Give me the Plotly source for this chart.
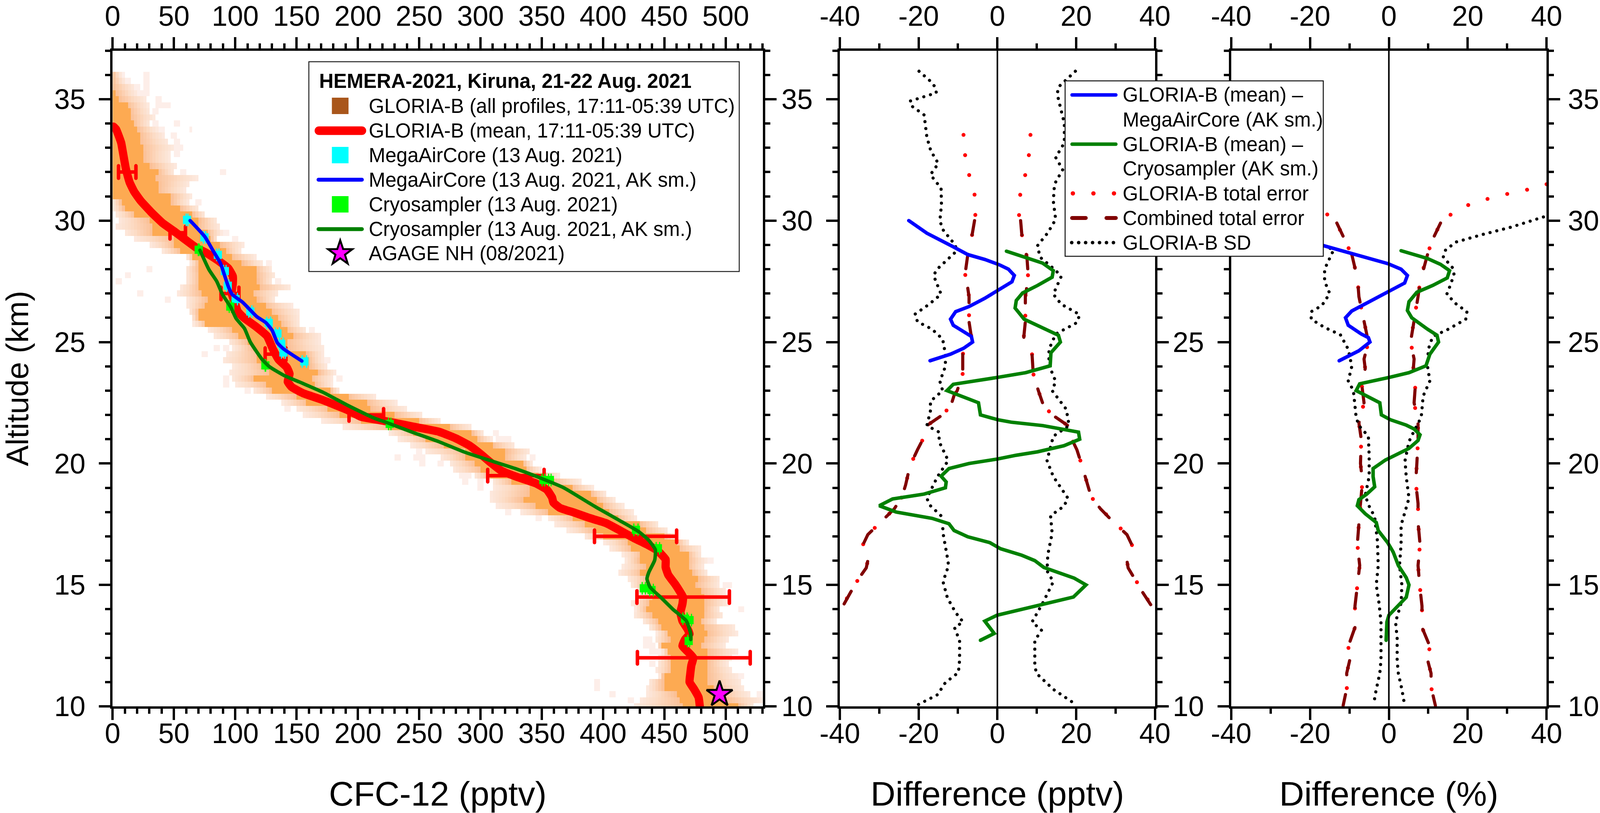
import math
import plotly.graph_objects as go

W, H = 4134, 2081

# ---------- histogram rows: altitude, outer left, core left, core right, outer right
ROW_ALT = [36,35.75,35.5,35.25,35,34.75,34.5,34.25,34,33.75,33.5,33.25,33,32.75,32.5,32.25,32,31.75,31.5,31.25,31,30.75,30.5,30.25,30,29.75,29.5,29.25,29,28.75,28.5,28.25,28,27.75,27.5,27.25,27,26.75,26.5,26.25,26,25.75,25.5,25.25,25,24.75,24.5,24.25,24,23.75,23.5,23.25,23,22.75,22.5,22.25,22,21.75,21.5,21.25,21,20.75,20.5,20.25,20,19.75,19.5,19.25,19,18.75,18.5,18.25,18,17.75,17.5,17.25,17,16.75,16.5,16.25,16,15.75,15.5,15.25,15,14.75,14.5,14.25,14,13.75,13.5,13.25,13,12.75,12.5,12.25,12,11.75,11.5,11.25,11,10.75,10.5,10.25,10]
ROW_A = [0,0,0,0,0,0,0,0,0,0,0,0,0,0,0,0,0,0,0,0,0,0,0,2,4,2,9,18,30,40,60,63,59,59,59,55,53,60,60,62,64,66,78,82,94,98,92,89,97.5,94.6,96.5,100,114,125,138,149,156,171,187.5,225,233,243,254,267,274,277,294,309,310,307,308,313,333,356,360.6,371,384,401,405,416,418,416,413,420,422,428,428,423.7,426,424.7,432,437,443.7,442,444.7,448,446,444,443,446,436.5,436,435,429,424.7]
ROW_B = [0,0,0,0,0,0,0,0,0,0,0,0,0,0,0,0,0,0,0,0,0,7,9,18,30,33,32,49,50,55,66,70,70,71,71,71,72,77,75,70,70,76,97.5,103,110,114,117.5,118.6,123,127,116,126,131,149,158.5,176,185,203,225,245,256,270,287,287,295,300.6,308,325,341,339.5,334,345,355,375,386,392,400,420.5,423,431,429,434,431,436,434,440,440,437.4,435,439.5,444.7,447,453,454,447.4,453,455,456,456,449,449,449,459,463.6,465]
ROW_C = [0,0,0,3,5,12,14,15,17,20,22,22,24,25,25,31,37,35,37,37,48,48,55,65,71,70,78,80,88,92,97.5,106,116.5,117.5,118.6,119.6,114,118.6,124,129,134,137.5,142,147,142,143,158,160,161,168,162,165,177.5,192,207,211,230,249.6,274,293,297.5,310,321,320,335,337,348,360,375,390,395,400,405,413,430,434,450,460.5,461.5,469,469.4,469,473,478,476,480,482,482.6,482.6,481.5,479.4,482.6,484.7,482.6,480,485,485,485,485,485,484.7,490,495,500,510]
ROW_D = [7,10,18,20,27,29,31,34,31,37,42,46,50,47,47,52,51,69,63,60,64,62,71,76,86,88,89,86,107,105,117,122,130,133,131,145,136,133,146.4,152,153,153,158.5,169.6,169.6,172,172,172,175,182,180,179,185,215,232,240,253,267.5,293,303,309,328.5,340.6,337,342,349,364,381.6,392,403,410,417,425,427,446,453.7,460.5,470,480,480.5,484,482.6,485,496,495,500.5,502,501.5,495.8,498.6,492.6,508.4,509,502.6,500,509,505,502,505.5,509.7,513.6,515,519.4,529,523.6]
# isolated cells: altitude, left, right
OUT_ALT = [36,36,35.75,35.75,35.5,35.5,35.25,35,34.75,34.5,34,34,33.75,33.75,33.5,33.25,33,32.75,32,32,30.75,29.5,29.25,28.25,28,27.75,27.5,27.5,27,26.75,25.5,24.75,24.75,24.5,24.25,23.5,23.5,23.25,23,22.25,21.25,21,20.5,20.25,20.25,20.25,20,20,19.5,19.25,19.25,19,18,17.75,16,15,14,12.75,12.5,12.5,12.25,11.75,11.25,11,10.75,10.5,10.5,10.25]
OUT_X0 = [5,24,9,24,18,24,20,35,36,33,33,51,38,62,48,49,51,49,54,87,67,90,97,124,27,9,3,132,19,43,161,83,91,73,173,90,182,89,108,140,311,313,248,231,246,339,250,264,282,284,298,297,320,344,485,498,509,433,432,438,438,436.5,511,392.6,392,404,524,419]
OUT_X1 = [10,29,14,29,23,29,29,40,47,38,38,56,43,66,53,56,57,56,59,92,72,95,103,129,32,14,8,137,24,48,166,88,96,78,178,95,187,94,113,145,316,324,253,236,254,344,255,271,292,289,303,302,325,349,490,505.5,514.4,439.5,437.4,443,447,442,516,398,397.4,409,529,425]

# ---------- left panel
MEAN_X = [0.7,2.8,5.5,7,8.6,10.7,12.3,13.9,17.6,22.8,31.2,40.7,50.2,58.6,68,76.5,87,94.4,98,98,97,99.6,102,107,116.5,126,130.7,135.4,142,144.3,142.8,146,155.4,171,192,202.7,220.6,229,244.8,265.9,279.6,291,300.6,308,316.4,329,344.8,354.2,358.4,359.5,364.8,376.3,388,402.6,415.3,425.8,436.3,444.7,451,451,453.1,458.9,462.6,465.2,464.7,463.1,464.7,468.9,470.5,466.8,464.7,468.9,473.6,472,471,470.5,474.2,477.9,478.9]
MEAN_Y = [33.87,33.76,33.42,33.2,32.75,32.16,31.84,31.57,31.19,30.82,30.36,29.9,29.56,29.24,28.89,28.67,28.32,28.03,27.71,27.39,27.01,26.64,26.26,26,25.65,25.24,24.71,24.28,23.96,23.69,23.37,23.15,22.89,22.62,22.19,21.92,21.76,21.68,21.52,21.31,21.04,20.74,20.37,20.05,19.72,19.46,19.19,18.92,18.6,18.39,18.17,17.98,17.77,17.54,17.2,16.91,16.65,16.4,16.05,15.73,15.42,15.02,14.73,14.5,14.21,13.87,13.52,13.18,12.98,12.75,12.49,12.26,12,11.69,11.29,11,10.71,10.37,10]
ERR_ALT = [32,29.5,27,24.5,22,19.5,17,14.5,12]
ERR_LO = [4.8,46.8,88.4,124.4,192.8,305.9,393,427.6,428]
ERR_HI = [19,59.4,103,141.4,221,351.9,460,503,520]
MAC_X = [60.7,74.9,85.8,91.5,93.9,100.3,112.3,127.3,134.4,137.5,139.3,156.4]
MAC_Y = [30.03,29.31,28.59,27.92,27.32,26.77,26.26,25.79,25.35,24.93,24.57,24.2]
MAC_E = [0.7,0.9,0.9,1,1,1.5,1.3,1.6,1.6,1.6,1.6,1.8]
MAC_AK_X = [63.2,75.3,81.7,88,91.2,94.4,97.5,106,117.5,124.9,130.1,134.3,139.6,154.3]
MAC_AK_Y = [30,29.33,28.78,28.24,27.76,27.28,26.96,26.64,26.05,25.8,25.48,24.97,24.71,24.22]
CRY_X = [70.2,96,124.6,226,351.3,356.6,426.8,444.7,433.2,439.5,466.8,470.5,469.8]
CRY_Y = [28.8,26.46,24.04,21.63,19.32,19.32,17.27,16.51,14.86,14.79,13.61,13.55,12.69]
CRY_E = [0.4,0.9,0.2,1,1,1,1.7,1.4,1.3,1.5,1.7,1.6,0.8]
CRY_AK_X = [71.2,78.6,84.9,89.6,96.5,100.7,107.5,112.3,121.7,128,139.6,155.4,171.2,192.2,213.2,223.8,244.8,265.9,286.9,311.1,329,350,367.9,388,395.3,413.2,428.9,437.4,442.6,442.1,437.4,435.8,438.4,446.8,457.3,467.9,471.5,471.5]
CRY_AK_Y = [28.78,27.98,27.5,26.96,26.42,25.97,25.56,25,24.3,23.98,23.63,23.29,22.94,22.38,21.87,21.68,21.28,20.9,20.47,20.07,19.78,19.38,19,18.39,18.17,17.66,17.2,16.83,16.45,16.02,15.53,15.25,14.9,14.5,13.98,13.52,12.98,12.75]
AGAGE_X = [495]
AGAGE_Y = [10.5]

# ---------- middle panel (pptv)
D_BLUE_X = [-22.5,-17.9,-11.2,-7.5,-3.2,0.5,2.8,4.3,3.7,0.1,-3.2,-7.2,-10.6,-11.9,-11.2,-8.6,-6.6,-6.3,-8.6,-11.9,-17.1]
D_BLUE_Y = [30,29.48,28.92,28.6,28.4,28.18,28,27.74,27.48,27.12,26.8,26.46,26.25,25.94,25.69,25.43,25.23,25,24.74,24.5,24.23]
D_GREEN_X = [2.3,7.5,11.5,14.2,13.9,10.2,6.4,4.8,4.5,6.8,11.5,15.5,16,13.6,13.4,7.2,-0.5,-11.2,-12.8,-4.8,-4.3,0.1,3.5,11.5,20.6,20.9,16.9,10.2,4.8,-0.1,-7.2,-12.3,-14.3,-13,-13.2,-18.6,-26.6,-30,-25.7,-16.6,-12.3,-11,-7.5,-1.9,0.8,6.2,9.5,11.8,19.5,22.5,19.3,11.5,5.5,-0.1,-3.2,-1.9,-0.8,-4.3]
D_GREEN_Y = [28.74,28.46,28.25,27.94,27.67,27.33,27.02,26.71,26.4,25.94,25.58,25.28,25,24.56,24.02,23.74,23.53,23.26,23,22.5,22,21.8,21.7,21.56,21.29,21,20.73,20.48,20.34,20.18,20,19.79,19.48,19.24,19,18.74,18.54,18.26,18,17.74,17.52,17.24,16.98,16.74,16.49,16.22,16,15.72,15.28,15,14.5,14.19,13.97,13.75,13.51,13.25,13,12.72]
D_SDL_X = [-19.9,-17,-15.8,-15.5,-22.2,-21.7,-18.6,-18.2,-17.9,-16.9,-15,-17,-14.3,-14.2,-14.6,-13.9,-10.6,-10.6,-15.3,-16.2,-15,-14.3,-17.3,-20.9,-20.3,-16.6,-13.9,-13.2,-13.2,-14.6,-13.9,-17,-17,-17.9,-14.8,-14.8,-12.5,-15.2,-17.9,-17.2,-14,-13.8,-12.7,-12.4,-13.8,-12.7,-10.6,-8.7,-10.9,-9.6,-9.6,-9.9,-13.2,-15.2,-20.6]
D_SDL_Y = [36.15,35.74,35.5,35.26,34.92,34.71,34.35,33.94,33.43,32.87,32.35,31.89,31.33,30.66,30,29.64,28.97,28.71,28,27.74,27.28,26.97,26.56,26.15,25.84,25.53,25.12,24.5,24,23.38,23,22.56,22.17,21.56,21.29,20.9,20.12,19.46,18.57,18.29,17.8,17.13,16.13,15.8,15.13,14.47,13.86,13.47,13.25,12.7,11.9,11.39,10.98,10.48,10.03]
D_SDR_X = [19.8,17.1,15.5,15.2,17,17,14.8,16.6,14.5,14.2,14.8,12.8,10.2,10.8,14.8,16.2,14.2,16.2,20.9,20.2,14.8,13.1,13.1,14.8,13.9,17.5,18.2,14.2,12.6,14.2,16.2,17.9,16.9,13.5,13.9,12.8,12.6,14.2,11.5,8.8,11.2,9.5,9.5,9.9,14.2,20.2]
D_SDR_Y = [36.15,35.74,35.5,35.2,34,33.2,32.6,32.1,31.5,30.8,30.05,29.5,28.97,28.5,27.95,27.7,26.97,26.56,26.13,25.8,25.33,24.7,24.05,23.38,23,22.23,21.56,21.12,20.12,19.46,18.96,18.57,18.24,17.85,17.13,16.24,15.58,15.13,14.25,13.47,13.14,12.7,11.7,11.36,10.7,10.05]
D_TOTL_X = [-8.6,-8.2,-7.2,-5.8,-5.6,-6.4,-7.6,-8.2,-7.6,-7.2,-7.2,-6.6,-8.8,-8.8,-10.2,-11,-11.9,-14.4,-17.9,-18.9,-20.3,-22.2,-23.3,-24.2,-26.2,-29,-32.9,-34.2,-32.9,-33.3,-35.3,-37.3,-39.6,-41]
D_TOTR_X = [8.4,8,7.1,5.8,5.5,6.2,7.5,7.8,7.5,7.1,7.1,6.7,8.8,9.1,10.4,10.8,11.8,14.4,17.9,18.9,20.2,21.5,22.9,23.8,26.2,28.9,32.9,34.2,32.9,33.2,34.9,36.9,39.6,41]
D_TOT_Y = [33.53,32.7,31.9,31.07,30.23,29.43,28.5,27.8,27.3,26.87,25.84,25.2,24.5,23.7,23,22.8,22.34,21.95,21.56,21,20.56,19.9,19.12,18.63,18.13,17.68,17.07,16.63,16,15.7,15.24,14.69,14.02,13.7]
D_COML_X = [-5.8,-6.4,-7.6,-8.2,-7.6,-7.2,-7.2,-6.6,-8.8,-8.8,-10.2,-11,-11.9,-14.4,-17.9,-18.9,-20.3,-22.2,-23.3,-24.2,-26.2,-29,-32.9,-34.2,-32.9,-33.3,-35.3,-37.3,-39.6,-41]
D_COMR_X = [5.9,6.2,7.5,7.8,7.5,7.1,7.1,6.7,8.8,9.1,10.4,10.8,11.8,14.4,17.9,18.9,20.2,21.5,22.9,23.8,26.2,28.9,32.9,34.2,32.9,33.2,34.9,36.9,39.6,41]
D_COM_Y = [30,29.43,28.5,27.8,27.3,26.87,25.84,25.2,24.5,23.7,23,22.8,22.34,21.95,21.56,21,20.56,19.9,19.12,18.63,18.13,17.68,17.07,16.63,16,15.7,15.24,14.69,14.02,13.7]

# ---------- right panel (%)
P_BLUE_X = [-35,-25,-16.6,-9,-0.3,3.1,4.7,4,-0.3,-4.9,-9.4,-11,-10.3,-7,-5.2,-4.8,-7.6,-12.6]
P_BLUE_Y = [30,29.5,28.97,28.64,28.23,28,27.74,27.43,27.07,26.66,26.28,26,25.69,25.33,25.18,25,24.64,24.23]
P_GREEN_X = [3.1,9.8,13.1,15.4,14.8,11.1,7.1,5.1,4.7,5.8,9.8,12.2,12.6,10.4,9.4,5.1,-0.3,-7.4,-8.3,-2.3,-1.9,0.4,4.4,6.4,7.9,7.4,5.1,1.7,-0.9,-4,-4,-3.6,-5.6,-7.6,-8,-6,-3.2,-2.7,-0.3,1.1,2.4,4.4,5.1,4.4,1.7,0,-0.5,-0.7]
P_GREEN_Y = [28.76,28.44,28.2,27.94,27.64,27.33,27.05,26.66,26.3,26,25.53,25.28,25,24.5,24.02,23.74,23.53,23.28,23,22.5,22,21.8,21.58,21.42,21.18,20.95,20.62,20.34,20.14,19.79,19.46,19.04,18.74,18.51,18.26,17.93,17.57,17.24,16.74,16.35,15.8,15.3,15,14.49,14.02,13.75,13.47,12.72]
P_SDL_X = [-40,-22,-14,-16.3,-16.3,-15,-17,-19.7,-19.7,-16.3,-12.3,-10.3,-9.4,-10.3,-9,-8.6,-8.3,-7.6,-5.2,-5,-5,-6,-5,-3.6,-2.9,-2.7,-3.2,-2.5,-2,-2,-2.3,-3.2,-3.9]
P_SDL_Y = [30.2,29.3,28.8,28,27.5,27,26.5,26.25,25.94,25.6,25.3,24.7,24,23.4,23,22.34,21.9,21.56,21.12,20.34,19.46,18.68,18.24,17.8,16.8,15.8,15,14.25,13.47,11.9,11.36,10.7,10.05]
P_SDR_X = [39.2,31.2,23.8,17.1,14.4,13.8,16.2,16.5,15.8,14.7,17.1,19.8,19.5,15.1,11.1,10,9.8,10.4,8.7,8.4,8.2,6.4,5.1,4.1,4.4,5.1,4,3.1,3.1,2.7,3.3,3.1,1.7,2.1,2.1,2.4,3.3,4]
P_SDR_Y = [30.15,29.74,29.43,29.12,28.8,28.5,28.05,27.8,27.43,26.97,26.56,26.25,25.94,25.53,25.23,24.7,24,23.4,22.78,22.34,21.9,21.34,20.9,20.12,19.46,18.57,18,17.46,16.68,15.8,15,14.25,13.47,12.8,11.9,11.36,10.7,10.05]
P_TOTR_X = [40,36.9,31.8,26.8,21.8,16.9,13.1,10.8,9.8,8.8,8,7.4,6.4,5.5,6.4,6.2,6.8,6.4,7.4,7.4,7.1,6.8,7.4,7.4,7.9,7.4,7.8,8.4,8.4,10.4,9.8,10.7,10.7,11.8]
P_TOTL_X = [-40,-36.9,-31.8,-26.8,-21.8,-16.7,-13.2,-11,-9.4,-8.6,-7.9,-7.6,-6.3,-5.2,-6.3,-6,-7,-6.3,-7.6,-7,-7.2,-6.7,-7.2,-7.6,-8,-7.4,-7.9,-8.6,-8.6,-10.3,-9.9,-10.7,-10.6,-11.6]
P_TOT_Y = [31.5,31.33,31.17,30.97,30.76,30.41,29.9,29.12,28.6,28.05,27.53,26.87,25.84,25,24.3,23.9,23.4,22.5,21.67,21,20,19.24,18.35,17.57,16.68,15.8,15,14.13,13.25,12.47,11.92,11.36,10.8,10.03]
P_COMR_X = [13.1,10.8,9.8,8.8,8,7.4,6.4,5.5,6.4,6.2,6.8,6.4,7.4,7.4,7.1,6.8,7.4,7.4,7.9,7.4,7.8,8.4,8.4,10.4,9.8,10.7,10.7,11.8]
P_COML_X = [-13.2,-11,-9.4,-8.6,-7.9,-7.6,-6.3,-5.2,-6.3,-6,-7,-6.3,-7.6,-7,-7.2,-6.7,-7.2,-7.6,-8,-7.4,-7.9,-8.6,-8.6,-10.3,-9.9,-10.7,-10.6,-11.6]
P_COM_Y = [29.9,29.12,28.6,28.05,27.53,26.87,25.84,25,24.3,23.9,23.4,22.5,21.67,21,20,19.24,18.35,17.57,16.68,15.8,15,14.13,13.25,12.47,11.92,11.36,10.8,10.03]

LEGEND1_TITLE = "HEMERA-2021, Kiruna, 21-22 Aug. 2021"
LEGEND1_TEXT = ["GLORIA-B (all profiles, 17:11-05:39 UTC)", "GLORIA-B (mean, 17:11-05:39 UTC)",
                "MegaAirCore (13 Aug. 2021)", "MegaAirCore (13 Aug. 2021, AK sm.)",
                "Cryosampler (13 Aug. 2021)", "Cryosampler (13 Aug. 2021, AK sm.)", "AGAGE NH (08/2021)"]
LEGEND2_TEXT = ["GLORIA-B (mean) –", "MegaAirCore (AK sm.)", "GLORIA-B (mean) –", "Cryosampler (AK sm.)",
                "GLORIA-B total error", "Combined total error", "GLORIA-B SD"]
X_TICKS = [0, 50, 100, 150, 200, 250, 300, 350, 400, 450, 500]
D_TICKS = [-40, -20, 0, 20, 40]
Y_TICKS = [10, 15, 20, 25, 30, 35]

# ---------- styles
FONT = "Liberation Sans"
RED, BLUE, GREEN, CYAN, LIME, DKRED = "#ff0000", "#0000ff", "#008000", "#00ffff", "#00ff00", "#800000"
LW = 6

def fx(p): return p / W
def fy(p): return 1 - p / H

P1, P2, P3 = (291, 1971), (2170, 2984), (3181, 3996)
YDOM = [fy(1808), fy(129.5)]

# ---------- histogram cells (2.5 pptv columns, 0.25 km rows)
step = 2.5
xc = [step / 2 + i * step for i in range(int(530 / step))]
z = []
for alt, a, b, c, d in zip(ROW_ALT, ROW_A, ROW_B, ROW_C, ROW_D):
    row = []
    for x in xc:
        v = None
        if b <= x <= c:
            v = 1.0
        elif a <= x < b:
            v = 0.12 + 0.55 * (x - a) / max(b - a, 1e-6)
        elif c < x <= d:
            v = 0.12 + 0.55 * (d - x) / max(d - c, 1e-6)
        row.append(v)
    for oa, o0, o1 in zip(OUT_ALT, OUT_X0, OUT_X1):
        if oa == alt:
            for i, x in enumerate(xc):
                if o0 <= x <= o1 and row[i] is None:
                    row[i] = 0.03
    z.append(row)

fig = go.Figure()
fig.add_trace(go.Heatmap(x=xc, y=ROW_ALT, z=z, zmin=0, zmax=1, showscale=False, hoverinfo="skip",
                         colorscale=[[0, "#fdf0ec"], [0.35, "#fcdcc6"], [0.7, "#fbbd91"], [1, "#fdaa52"]]))
mid = [(l + h) / 2 for l, h in zip(ERR_LO, ERR_HI)]
half = [(h - l) / 2 for l, h in zip(ERR_LO, ERR_HI)]
fig.add_trace(go.Scatter(x=mid, y=ERR_ALT, mode="markers", marker=dict(size=1, color=RED),
                         error_x=dict(type="data", array=half, color=RED, thickness=9, width=16)))
fig.add_trace(go.Scatter(x=MEAN_X, y=MEAN_Y, mode="lines", line=dict(color=RED, width=21, shape="spline", smoothing=0.4)))
fig.add_trace(go.Scatter(x=MAC_X, y=MAC_Y, mode="markers", marker=dict(symbol="square", size=21, color=CYAN),
                         error_x=dict(type="data", array=MAC_E, color=CYAN, thickness=3, width=15)))
fig.add_trace(go.Scatter(x=MAC_AK_X, y=MAC_AK_Y, mode="lines", line=dict(color=BLUE, width=9, shape="spline", smoothing=0.5)))
fig.add_trace(go.Scatter(x=CRY_X, y=CRY_Y, mode="markers", marker=dict(symbol="square", size=21, color=LIME),
                         error_x=dict(type="data", array=CRY_E, color=LIME, thickness=3, width=15)))
fig.add_trace(go.Scatter(x=CRY_AK_X, y=CRY_AK_Y, mode="lines", line=dict(color=GREEN, width=9, shape="spline", smoothing=0.5)))
fig.add_trace(go.Scatter(x=AGAGE_X, y=AGAGE_Y, mode="markers",
                         marker=dict(symbol="star", size=50, color="#ff00ff", line=dict(color="black", width=5))))

def diff_traces(xa, ya, blue, green, sd, tot, com):
    dots = "0.1px,51.9px"
    dash = "37px,51px"
    sdash = "0.1px,17.7px"
    for (xs, ys) in tot:
        fig.add_trace(go.Scatter(x=xs, y=ys, mode="lines", xaxis=xa, yaxis=ya, line=dict(color=RED, width=10, dash=dots)))
    for (xs, ys) in com:
        fig.add_trace(go.Scatter(x=xs, y=ys, mode="lines", xaxis=xa, yaxis=ya, line=dict(color=DKRED, width=8, dash=dash)))
    for (xs, ys) in sd:
        fig.add_trace(go.Scatter(x=xs, y=ys, mode="lines", xaxis=xa, yaxis=ya, line=dict(color="black", width=8, dash=sdash)))
    fig.add_trace(go.Scatter(x=blue[0], y=blue[1], mode="lines", xaxis=xa, yaxis=ya, line=dict(color=BLUE, width=9)))
    fig.add_trace(go.Scatter(x=green[0], y=green[1], mode="lines", xaxis=xa, yaxis=ya, line=dict(color=GREEN, width=9)))

diff_traces("x2", "y2", (D_BLUE_X, D_BLUE_Y), (D_GREEN_X, D_GREEN_Y),
            [(D_SDL_X, D_SDL_Y), (D_SDR_X, D_SDR_Y)],
            [(D_TOTL_X, D_TOT_Y), (D_TOTR_X, D_TOT_Y)],
            [(D_COML_X, D_COM_Y), (D_COMR_X, D_COM_Y)])
diff_traces("x3", "y3", (P_BLUE_X, P_BLUE_Y), (P_GREEN_X, P_GREEN_Y),
            [(P_SDL_X, P_SDL_Y), (P_SDR_X, P_SDR_Y)],
            [(P_TOTL_X, P_TOT_Y), (P_TOTR_X, P_TOT_Y)],
            [(P_COML_X, P_COM_Y), (P_COMR_X, P_COM_Y)])

# overlay axis pairs: top/right sides (x4-x6) and bottom tick labels (x7-x9)
for xa, ya in (("x4", "y4"), ("x5", "y5"), ("x6", "y6"), ("x7", "y"), ("x8", "y2"), ("x9", "y3")):
    fig.add_trace(go.Scatter(x=[None], y=[None], mode="lines", xaxis=xa, yaxis=ya, hoverinfo="skip"))

TICK_FONT = dict(family=FONT, size=72, color="black")
TITLE_FONT = dict(family=FONT, size=88, color="black")

def xaxis(dom, rng, ticks, minor, side, overlay=None, anchor=None, labels=True):
    return dict(domain=[fx(dom[0]), fx(dom[1])], range=rng, side=side, anchor=anchor, automargin=False,
             showline=True, linecolor="black", linewidth=LW, showgrid=False, zeroline=False,
             ticks="outside", ticklen=29, tickwidth=LW, tickcolor="black", tickfont=TICK_FONT,
             tickmode="array", tickvals=ticks, ticktext=[str(t) for t in ticks], showticklabels=labels,
             ticklabelstandoff=0,
             **({"overlaying": overlay} if overlay else {}),
             minor=dict(ticks="outside", dtick=minor, tick0=rng[0] if rng[0] < 0 else 0, ticklen=13, tickwidth=LW, tickcolor="black", showgrid=False))

def xlabels(dom, rng, ticks, overlay, anchor, title):
    return dict(domain=[fx(dom[0]), fx(dom[1])], range=rng, side="bottom", anchor=anchor, overlaying=overlay, automargin=False,
                showline=False, showgrid=False, zeroline=False, ticks="", tickfont=TICK_FONT,
                tickmode="array", tickvals=ticks, ticktext=[str(t) for t in ticks], ticklabelstandoff=21,
                title=dict(text=title, font=TITLE_FONT, standoff=93))

def yaxis(dom_anchor, side, labels, overlay=None, title=None):
    d = dict(domain=YDOM, range=[10, 37], side=side, anchor=dom_anchor, automargin=False,
             showline=True, linecolor="black", linewidth=LW, showgrid=False, zeroline=False,
             ticks="outside", ticklen=29, tickwidth=LW, tickcolor="black", tickfont=TICK_FONT,
             tickmode="array", tickvals=Y_TICKS, ticktext=[str(t) for t in Y_TICKS],
             showticklabels=labels, ticklabelstandoff=20 if side == "left" else 5,
             minor=dict(ticks="outside", dtick=1, tick0=10, ticklen=13, tickwidth=LW, tickcolor="black", showgrid=False))
    if overlay: d["overlaying"] = overlay
    if title: d["title"] = dict(text=title, font=dict(family=FONT, size=80, color="black"), standoff=62)
    return d

# ---------- legends drawn in page coordinates, above axes
shapes = []
annos = []

def rect(x0, y0, x1, y1, fill, line="rgba(0,0,0,0)", lw=0):
    shapes.append(dict(type="rect", xref="paper", yref="paper", layer="above", x0=fx(x0), x1=fx(x1), y0=fy(y0), y1=fy(y1),
                       fillcolor=fill, line=dict(color=line, width=lw)))

def keyline(x0, x1, y, color, w, dash="solid"):
    shapes.append(dict(type="line", xref="paper", yref="paper", layer="above", x0=fx(x0), x1=fx(x1), y0=fy(y), y1=fy(y),
                       line=dict(color=color, width=w, dash=dash)))

def label(x, y, text, bold=False):
    annos.append(dict(xref="paper", yref="paper", x=fx(x), y=fy(y), xanchor="left", yanchor="middle", showarrow=False,
                      text=f"<b>{text}</b>" if bold else text, borderpad=0,
                      font=dict(family=FONT, size=51, color="black")))

# zero lines for both difference panels
for xa, ya in (("x2", "y2"), ("x3", "y3")):
    shapes.append(dict(type="line", xref=xa, yref=ya, layer="above", x0=0, x1=0, y0=10, y1=37, line=dict(color="black", width=4)))

rect(798, 158, 1910, 695, "white", "#222222", 2.5)
label(824, 207, LEGEND1_TITLE, bold=True)
rows1 = [271, 334.5, 397, 460, 523, 586.5, 649]
for t, y in zip(LEGEND1_TEXT, rows1):
    label(952, y, t)
rect(857.5, rows1[0] - 21, 900.5, rows1[0] + 21, "#a9561b")
keyline(824, 935, rows1[1], RED, 22)
rect(857.5, rows1[2] - 21, 900.5, rows1[2] + 21, CYAN)
keyline(823, 935, rows1[3], BLUE, 10)
rect(857.5, rows1[4] - 21, 900.5, rows1[4] + 21, LIME)
keyline(823, 935, rows1[5], GREEN, 10)
# star key
cx, cy, R, r = 879, 648, 33, 13
pts = []
for i in range(10):
    rad = R if i % 2 == 0 else r
    ang = -math.pi / 2 + i * math.pi / 5
    pts.append((cx + rad * math.cos(ang), cy + rad * math.sin(ang)))
path = "M" + " L".join(f"{fx(a):.6f},{fy(b):.6f}" for a, b in pts) + " Z"
shapes.append(dict(type="path", xref="paper", yref="paper", layer="above", path=path, fillcolor="#ff00ff", line=dict(color="black", width=5)))

rect(2752, 207, 3419, 656, "white", "#111111", 2.5)
rows2 = [243, 306, 369, 432, 495, 558, 621]
for t, y in zip(LEGEND2_TEXT, rows2):
    label(2900, y, t)
keyline(2770, 2883, rows2[0], BLUE, 9)
keyline(2770, 2883, rows2[2], GREEN, 9)
keyline(2772, 2880, rows2[4], RED, 11, "0.1px,52.5px")
keyline(2770, 2883, rows2[5], DKRED, 10, "35px,53px")
keyline(2769, 2877, rows2[6], "black", 9, "0.1px,17.7px")

fig.update_layout(
    margin=dict(l=0, r=0, t=0, b=0, autoexpand=False), paper_bgcolor="white", plot_bgcolor="rgba(0,0,0,0)",
    showlegend=False, font=dict(family=FONT, color="black"), shapes=shapes, annotations=annos,
    xaxis=xaxis(P1, [0, 530.3], X_TICKS, 10, "bottom", anchor="y", labels=False),
    yaxis=yaxis("x", "left", True, title="Altitude (km)"),
    xaxis2=xaxis(P2, [-40, 40], D_TICKS, 10, "bottom", anchor="y2", labels=False),
    yaxis2=yaxis("x2", "left", True),
    xaxis3=xaxis(P3, [-40, 40], D_TICKS, 10, "bottom", anchor="y3", labels=False),
    yaxis3=yaxis("x3", "left", True),
    xaxis4=xaxis(P1, [0, 530.3], X_TICKS, 10, "top", overlay="x", anchor="y4"),
    yaxis4=yaxis("x4", "right", False, overlay="y"),
    xaxis5=xaxis(P2, [-40, 40], D_TICKS, 10, "top", overlay="x2", anchor="y5"),
    yaxis5=yaxis("x5", "right", False, overlay="y2"),
    xaxis6=xaxis(P3, [-40, 40], D_TICKS, 10, "top", overlay="x3", anchor="y6"),
    yaxis6=yaxis("x6", "right", True, overlay="y3"),
    xaxis7=xlabels(P1, [0, 530.3], X_TICKS, "x", "y", "CFC-12 (pptv)"),
    xaxis8=xlabels(P2, [-40, 40], D_TICKS, "x2", "y2", "Difference (pptv)"),
    xaxis9=xlabels(P3, [-40, 40], D_TICKS, "x3", "y3", "Difference (%)"),
)

page_js = ("document.body.style.margin='0';document.documentElement.style.margin='0';document.body.style.overflow='hidden';"
           "var s=document.createElement('style');"
           "s.textContent='.js-line,.xerror,.shapelayer path{stroke-linecap:round}';"
           "document.head.appendChild(s);")
fig.write_html("out.html", config={"displayModeBar": False}, default_width="100vw", default_height="100vh", post_script=page_js)
